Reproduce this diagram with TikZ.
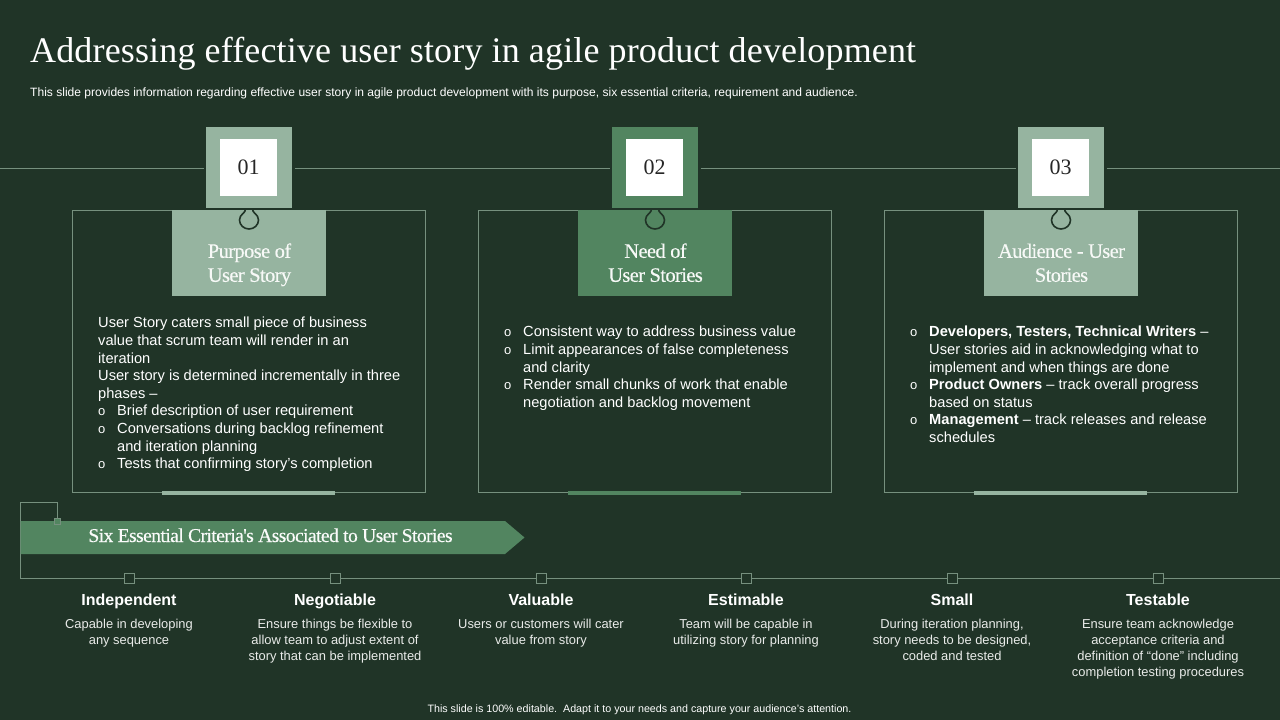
\documentclass[tikz,border=0pt]{standalone}
\usepackage{fontspec}
\setmainfont{Liberation Serif}
\setsansfont{Liberation Sans}
\definecolor{slidebg}{HTML}{203427}
\definecolor{palegreen}{HTML}{96B4A0}
\definecolor{midgreen}{HTML}{528560}
\definecolor{rulegreen}{HTML}{76907E}
\newfontfamily\titlefont[LetterSpace=0.42]{Liberation Serif}
\newfontfamily\tightfont[LetterSpace=-3,FakeBold=0.3]{Liberation Serif}
\newcommand{\bul}{\makebox[19pt][l]{\fontsize{13}{13}\selectfont o}}
\newcommand{\bulb}{\makebox[19pt][l]{}}
\tikzset{
  numbox/.style = {draw = slidebg, line width = 1pt, minimum width = 87, minimum height = 82, inner sep = 0},
  numface/.style = {fill = white, minimum size = 57, inner sep = 0, text = black!85, font = \fontsize{22}{22}\selectfont},
  headbox/.style = {minimum width = 154, minimum height = 86, inner sep = 0},
  headtext/.style = {inner sep = 0, align = center, text = white!92!palegreen,
    font = \tightfont\fontsize{20.5}{24}\selectfont},
  panel/.style = {draw = rulegreen, line width = 0.8pt, minimum width = 353, minimum height = 282, inner sep = 0},
  bodytext/.style = {text = white, align = left, inner sep = 0, anchor = north west,
    font = \sffamily\fontsize{14.65}{17.6}\selectfont},
  tick/.style = {draw = rulegreen, line width = 0.8pt, fill = slidebg, minimum size = 10, inner sep = 0},
  bracedot/.style = {minimum size = 6, inner sep = 0, fill = midgreen, draw = rulegreen, line width = 0.5pt},
  crithead/.style = {text = white, inner sep = 0, anchor = base, font = \sffamily\bfseries\fontsize{16}{16}\selectfont},
  critbody/.style = {text = white!90!slidebg, inner sep = 0, align = center, anchor = north,
    font = \sffamily\fontsize{12.9}{16}\selectfont},
  rulewire/.style = {draw = rulegreen, line width = 0.8pt}
}
\begin{document}
\begin{tikzpicture}[x = 1pt, y = -1pt]
  \useasboundingbox [fill = slidebg] (0, 0) rectangle (1280, 720);

  \node [anchor = west, inner sep = 0, text = white, font = \titlefont\fontsize{36}{36}\selectfont] (title) at (30, 54)
    {Addressing effective user story in agile product development};
  \node [anchor = west, inner sep = 0, text = white, font = \sffamily\fontsize{12.05}{14}\selectfont] (subtitle) at (30, 93.5)
    {This slide provides information regarding effective user story in agile product development with its purpose, six essential criteria, requirement and audience.};

  % top rule, broken by the number boxes
  \coordinate (railstart) at (0, 168);
  \coordinate (railend) at (1280, 168);

  \foreach \n/\x/\col/\num/\head in {
    one/249/palegreen/01/{\strut Purpose of\\\strut User Story},
    two/655/midgreen/02/{\strut Need of\\\strut User Stories},
    three/1061/palegreen/03/{\strut Audience - User\\\strut Stories}} {
    \node [panel] (panel\n) at (\x - 0.5, 351) {};
    \node [numbox, fill = \col] (num\n) at (\x, 167.5) {};
    \node [numface] (face\n) at (\x - 0.5, 167.5) {\num};
    \node [headbox, fill = \col] (head\n) at (\x, 253) {};
    \node [headtext] (caption\n) at (\x + 0.5, 265) {\head};
    \fill [\col] (\x - 87, 490.5) rectangle (\x + 86, 495);
    \draw [slidebg, line width = 1.6pt, line join = round]
      (\x - 3.5, 209) .. controls (\x - 3, 213) and (\x - 9.5, 214) .. (\x - 9.5, 220)
      arc (180:0:9.5 and 9)
      .. controls (\x + 9.5, 214) and (\x + 3, 213) .. (\x + 3.5, 209);
  }

  \draw [rulewire] (railstart) -- ([xshift = -1.5]numone.west |- railstart);
  \draw [rulewire] ([xshift = 1.5]numone.east |- railstart) -- ([xshift = -1.5]numtwo.west |- railstart);
  \draw [rulewire] ([xshift = 1.5]numtwo.east |- railstart) -- ([xshift = -1.5]numthree.west |- railstart);
  \draw [rulewire] ([xshift = 1.5]numthree.east |- railstart) -- (railend);

  \node [bodytext] (textone) at (98, 317) {User Story caters small piece of business\\
    value that scrum team will render in an\\
    iteration\\
    User story is determined incrementally in three\\
    phases --\\
    \bul Brief description of user requirement\\
    \bul Conversations during backlog refinement\\
    \bulb and iteration planning\\
    \bul Tests that confirming story's completion};
  \node [bodytext] (texttwo) at (504, 326) {\bul Consistent way to address business value\\
    \bul Limit appearances of false completeness\\
    \bulb and clarity\\
    \bul Render small chunks of work that enable\\
    \bulb negotiation and backlog movement};
  \node [bodytext] (textthree) at (910, 326) {\bul \textbf{Developers, Testers, Technical Writers} --\\
    \bulb User stories aid in acknowledging what to\\
    \bulb implement and when things are done\\
    \bul \textbf{Product Owners} -- track overall progress\\
    \bulb based on status\\
    \bul \textbf{Management} -- track releases and release\\
    \bulb schedules};

  % criteria strip
  \coordinate (stripcorner) at (20, 578);
  \coordinate (stripend) at (1280, 578);
  \coordinate (bracetop) at (20, 502);
  \coordinate (braceend) at (57, 521.5);
  \draw [rulewire] (stripend) -- (stripcorner) -- (bracetop) -| (braceend);
  \fill [midgreen] (20.5, 521) -- (505, 521) -- (524.5, 537.5) -- (505, 554) -- (20.5, 554) -- cycle;
  \node [bracedot] (bracedot) at (braceend) {};
  \node [inner sep = 0, anchor = base, text = white!95!palegreen, font = \tightfont\fontsize{19.6}{20}\selectfont] (striptext) at (270.5, 542) {Six Essential Criteria's Associated to User Stories};

  \foreach \n/\x/\head/\body in {
    a/129/Independent/{Capable in developing\\any sequence},
    b/335/Negotiable/{Ensure things be flexible to\\allow team to adjust extent of\\story that can be implemented},
    c/541/Valuable/{Users or customers will cater\\value from story},
    d/746/Estimable/{Team will be capable in\\utilizing story for planning},
    e/952/Small/{During iteration planning,\\story needs to be designed,\\coded and tested},
    f/1158/Testable/{Ensure team acknowledge\\acceptance criteria and\\definition of ``done'' including\\completion testing procedures}} {
    \node [tick] (tick\n) at (\x, 578) {};
    \node [crithead] (crit\n) at (\x, 605.5) {\head};
    \node [critbody] (body\n) at (\x, 619) {\body};
  }

  \node [inner sep = 0, text = white, font = \sffamily\fontsize{10.7}{13}\selectfont] (footer) at (639.5, 710)
    {This slide is 100\% editable.\ \ Adapt it to your needs and capture your audience's attention.};
\end{tikzpicture}
\end{document}
